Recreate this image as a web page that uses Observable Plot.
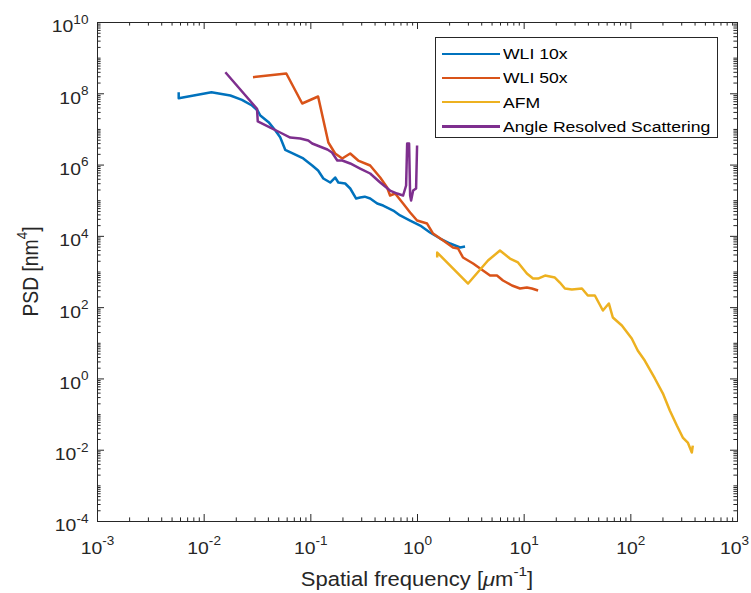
<!DOCTYPE html>
<html>
<head>
<meta charset="utf-8">
<script src="https://cdn.jsdelivr.net/npm/d3@7"></script>
<script src="https://cdn.jsdelivr.net/npm/@observablehq/plot@0.6"></script>
<style>
  html, body { margin: 0; padding: 0; background: #fff; }
  #wrap { position: relative; width: 751px; height: 593px; font-family: "Liberation Sans", Arial, Helvetica, sans-serif; }
  #legend { position: absolute; left: 435px; top: 37px; width: 283px; height: 101px; box-sizing: border-box;
            border: 1px solid #262626; background: #fff; }
  #legend .sw { position: absolute; left: 6px; width: 58px; height: 2.4px; }
  #legend .lb { position: absolute; left: 67px; font-size: 15.3px; line-height: 1; color: #000; white-space: nowrap;
                transform: scaleX(1.15); transform-origin: left center; }
</style>
</head>
<body>
<div id="wrap"></div>
<script>
// ---- data ----
const seriesNames  = ["WLI 10x", "WLI 50x", "AFM", "Angle Resolved Scattering"];
const seriesColors = ["#0072BD", "#D95319", "#EDB120", "#7E2F8E"];

const wli10Freq = [5.77e-3, 5.77e-3, 1.17e-2, 1.76e-2, 2.26e-2, 2.81e-2, 3.17e-2, 3.36e-2, 4.02e-2, 4.65e-2, 5.16e-2, 5.75e-2,
  6.84e-2, 8.49e-2, 0.103, 0.117, 0.131, 0.152, 0.169, 0.181, 0.210, 0.234, 0.266, 0.290, 0.320, 0.360, 0.419, 0.476,
  0.592, 0.687, 0.853, 1.06, 1.31, 1.63, 2.02, 2.51, 2.79];
const wli10Psd = [1.11e8, 7.5e7, 1.11e8, 8.95e7, 6.78e7, 4.69e7, 3.40e7, 2.46e7, 1.60e7, 9.33e6, 6.05e6, 2.68e6,
  2.11e6, 1.53e6, 9.72e5, 7.04e5, 4.20e5, 3.24e5, 4.48e5, 3.24e5, 3.04e5, 2.20e5, 1.15e5, 1.23e5, 1.30e5, 1.15e5, 8.34e4, 7.33e4,
  5.31e4, 3.85e4, 2.78e4, 2.01e4, 1.28e4, 8.70e3, 6.30e3, 4.86e3, 5.19e3];

const wli50Freq = [2.87e-2, 5.89e-2, 8.30e-2, 0.117, 0.146, 0.169, 0.197, 0.234, 0.278, 0.360, 0.447, 0.519, 0.553, 0.617,
  0.733, 0.853, 0.991, 1.23, 1.40, 1.74, 2.15, 2.40, 2.67, 3.32, 4.11, 4.79, 5.56, 6.33, 7.69, 9.14, 10.6, 11.8, 13.5];
const wli50Psd = [2.92e8, 3.71e8, 5.34e7, 8.39e7, 4.30e6, 2.11e6, 1.53e6, 2.11e6, 1.34e6, 9.72e5, 4.48e5, 2.35e5, 1.40e5, 1.59e5,
  8.34e4, 4.67e4, 2.78e4, 2.29e4, 1.20e4, 7.64e3, 4.86e3, 4.56e3, 2.55e3, 1.73e3, 1.10e3, 7.96e2, 7.96e2, 5.77e2, 4.18e2, 3.44e2, 3.67e2, 3.44e2, 3.02e2];

const afmFreq = [1.53, 1.53, 2.98, 4.58, 5.93, 7.36, 8.75, 10.6, 12.1, 13.5, 15.7, 19.4, 21.6, 24.1, 28.0, 34.8, 39.5, 46.0,
  54.7, 62.2, 67.8, 82.4, 102, 116, 135, 168, 200, 232, 270, 307, 342, 373, 381];
const afmPsd = [2.55e3, 3.52e3, 4.75e2, 2.10e3, 4.01e3, 2.39e3, 1.85e3, 9.06e2, 6.56e2, 6.56e2, 7.96e2, 7.00e2, 5.07e2, 3.44e2, 3.22e2, 3.44e2, 2.19e2, 2.19e2,
  83.0, 1.31e2, 52.8, 31.5, 13.6, 6.27, 3.28, 1.03, 0.389, 0.130, 0.0492, 0.0227, 0.0164, 8.6e-3, 0.0135];

const arsFreq = [1.58e-2, 3.13e-2, 3.18e-2, 4.17e-2, 5.16e-2, 6.41e-2, 7.96e-2, 9.46e-2, 0.103, 0.128, 0.143, 0.158, 0.177, 0.197,
  0.234, 0.290, 0.360, 0.447, 0.553, 0.644, 0.733, 0.782, 0.800, 0.834, 0.853, 0.871, 0.910, 0.970, 0.991];
const arsPsd = [4.03e8, 3.79e7, 1.67e7, 1.13e7, 8.20e6, 5.93e6, 5.56e6, 4.89e6, 4.03e6, 3.11e6, 2.73e6, 2.25e6, 1.34e6, 1.34e6,
  1.11e6, 8.00e5, 5.80e5, 3.24e5, 1.93e5, 1.59e5, 1.40e5, 2.67e5, 4.03e6, 4.03e6, 1.40e5, 1.01e5, 1.93e5, 2.20e5, 3.54e6];

const xMajorTicks = [1e-3, 1e-2, 1e-1, 1e0, 1e1, 1e2, 1e3];
const yMajorTicks = [1e-4, 1e-2, 1e0, 1e2, 1e4, 1e6, 1e8, 1e10];
const minorMultipliers = [1, 2, 3, 4, 5, 6, 7, 8, 9];
const xDecades = [-3, -2, -1, 0, 1, 2];
const yDecades = [-4, -3, -2, -1, 0, 1, 2, 3, 4, 5, 6, 7, 8, 9];

const xMinorTicks = xDecades.flatMap(n => minorMultipliers.slice(1).map(k => k * Math.pow(10, n)));
const yMinorTicks = yDecades.flatMap(n => minorMultipliers.map(k => k * Math.pow(10, n)))
  .filter(v => !yMajorTicks.some(m => Math.abs(v / m - 1) < 1e-9));

// ---- table ----
const seriesFreq = [wli10Freq, wli50Freq, afmFreq, arsFreq];
const seriesPsd  = [wli10Psd, wli50Psd, afmPsd, arsPsd];
const rows = [];
seriesNames.forEach((name, i) => seriesFreq[i].forEach((f, j) => rows.push({series: name, f, p: seriesPsd[i][j]})));

// ---- layout ----
const W = 751, H = 593, mL = 97, mR = 14, mT = 22, mB = 72;
const innerW = W - mL - mR, innerH = H - mT - mB;
const axisColor = "#262626";
const FONT = '"Liberation Sans", Arial, Helvetica, sans-serif';
const tickFont = 17, labelFont = 19.3, stretch = 1.14;
const majorLen = 7, minorLen = 3.6;

const chart = Plot.plot({
  width: W, height: H,
  marginLeft: mL, marginRight: mR, marginTop: mT, marginBottom: mB,
  x: {type: "log", domain: [1e-3, 1e3]},
  y: {type: "log", domain: [1e-4, 1e10]},
  color: {domain: seriesNames, range: seriesColors},
  style: {fontFamily: FONT, fontSize: tickFont + "px", color: axisColor, background: "#fff", overflow: "visible"},
  marks: [
    Plot.line(rows, {x: "f", y: "p", z: "series", stroke: "series", strokeWidth: 2.5, strokeLinejoin: "round", strokeLinecap: "butt"}),
    // ticks inward (MATLAB box style)
    Plot.ruleX(xMajorTicks, {stroke: axisColor, strokeWidth: 1, insetTop: innerH - majorLen}),
    Plot.ruleX(xMajorTicks, {stroke: axisColor, strokeWidth: 1, insetBottom: innerH - majorLen}),
    Plot.ruleX(xMinorTicks, {stroke: axisColor, strokeWidth: 1, insetTop: innerH - minorLen}),
    Plot.ruleX(xMinorTicks, {stroke: axisColor, strokeWidth: 1, insetBottom: innerH - minorLen}),
    Plot.ruleY(yMajorTicks, {stroke: axisColor, strokeWidth: 1, insetRight: innerW - majorLen}),
    Plot.ruleY(yMajorTicks, {stroke: axisColor, strokeWidth: 1, insetLeft: innerW - majorLen}),
    Plot.ruleY(yMinorTicks, {stroke: axisColor, strokeWidth: 1, insetRight: innerW - minorLen}),
    Plot.ruleY(yMinorTicks, {stroke: axisColor, strokeWidth: 1, insetLeft: innerW - minorLen}),
    Plot.frame({stroke: axisColor, strokeWidth: 1}),
    Plot.axisX(xMajorTicks, {tickSize: 0, tickPadding: 20, label: null, fill: axisColor,
      tickFormat: d => "10^" + Math.round(Math.log10(d))}),
    Plot.axisY(yMajorTicks, {tickSize: 0, tickPadding: 9, label: null, fill: axisColor,
      tickFormat: d => "10^" + Math.round(Math.log10(d))})
  ]
});

const wrap = document.getElementById("wrap");
wrap.appendChild(chart);
const svg = chart;
const NS = "http://www.w3.org/2000/svg";

// superscripts on tick labels
function supify(el, base) {
  const m = el.textContent.match(/^10\^(-?\d+)$/);
  if (!m) return false;
  while (el.firstChild) el.removeChild(el.firstChild);
  const t1 = document.createElementNS(NS, "tspan"); t1.textContent = "10";
  const t2 = document.createElementNS(NS, "tspan"); t2.textContent = m[1];
  t2.setAttribute("font-size", (base * 0.7) + "px");
  t2.setAttribute("dy", (-base * 0.5) + "px");
  el.appendChild(t1); el.appendChild(t2);
  return true;
}
const yTickTexts = [];
svg.querySelectorAll("text").forEach(el => {
  if (supify(el, tickFont)) {
    const anchor = getComputedStyle(el).textAnchor;
    if (anchor === "end") yTickTexts.push(el);
  }
});
yTickTexts.forEach(el => {
  const yAttr = el.getAttribute("y");
  if (yAttr && /em$/.test(yAttr)) el.setAttribute("y", "0.58em");
  else el.setAttribute("dy", "0.58em");
});

// axis titles
const S = d3.select(svg);
const yl = S.append("text")
  .attr("transform", `translate(37,${mT + innerH / 2}) rotate(-90)`)
  .attr("text-anchor", "middle").attr("font-size", labelFont).attr("fill", axisColor).attr("font-family", FONT);
yl.append("tspan").text("PSD [nm");
yl.append("tspan").text("4").attr("font-size", labelFont * 0.7).attr("dy", -labelFont * 0.5);
yl.append("tspan").text("]").attr("dy", labelFont * 0.5);

const xl = S.append("text")
  .attr("transform", `translate(${mL + innerW / 2},586)`)
  .attr("text-anchor", "middle").attr("font-size", labelFont).attr("fill", axisColor).attr("font-family", FONT);
xl.append("tspan").text("Spatial frequency [");
xl.append("tspan").text("\u03BC").attr("font-style", "italic");
xl.append("tspan").text("m");
xl.append("tspan").text("-1").attr("font-size", labelFont * 0.7).attr("dy", -labelFont * 0.5);
xl.append("tspan").text("]").attr("dy", labelFont * 0.5);

// horizontal stretch of glyphs (the reference is widened horizontally)
function stretchText(el, k) {
  const parent = el.parentNode;
  const r = el.getBoundingClientRect();
  const anchor = getComputedStyle(el).textAnchor;
  const sx = anchor === "middle" ? (r.left + r.right) / 2 : anchor === "end" ? r.right : r.left;
  const pt = svg.createSVGPoint(); pt.x = sx; pt.y = r.top;
  const lp = pt.matrixTransform(parent.getScreenCTM().inverse());
  const g = document.createElementNS(NS, "g");
  parent.insertBefore(g, el); g.appendChild(el);
  g.setAttribute("transform", `translate(${lp.x},0) scale(${k},1) translate(${-lp.x},0)`);
  // keep inside the picture
  const svgR = svg.getBoundingClientRect();
  const r2 = el.getBoundingClientRect();
  const over = r2.right - (svgR.left + W - 2);
  if (over > 0) g.setAttribute("transform", `translate(${-over},0) ` + g.getAttribute("transform"));
}
Array.from(svg.querySelectorAll("text")).forEach(el => { if (el.textContent.trim()) stretchText(el, stretch); });

// legend
const legend = document.createElement("div");
legend.id = "legend";
seriesNames.forEach((name, i) => {
  const cy = 15.7 + i * 24.3;
  const sw = document.createElement("div");
  sw.className = "sw"; sw.style.top = (cy - 1.2) + "px"; sw.style.background = seriesColors[i];
  const lb = document.createElement("div");
  lb.className = "lb"; lb.style.top = (cy - 7.7) + "px"; lb.textContent = name;
  legend.appendChild(sw); legend.appendChild(lb);
});
wrap.appendChild(legend);
</script>
</body>
</html>
